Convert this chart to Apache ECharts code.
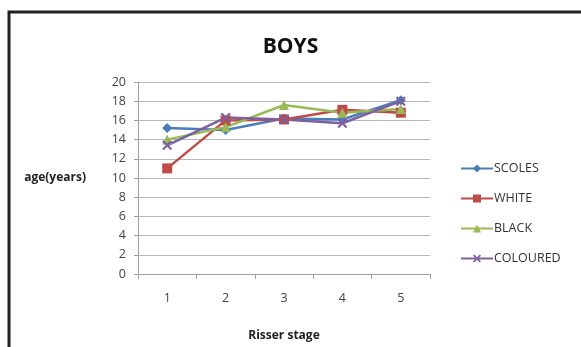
<!DOCTYPE html>
<html><head><meta charset="utf-8">
<script src="https://cdn.jsdelivr.net/npm/echarts@6/dist/echarts.min.js"></script>
<style>html,body{margin:0;padding:0;background:#fff}#c{width:581px;height:347px}</style>
</head><body><div id="c"></div>
<script>
const categories = ['1','2','3','4','5'];
const scoles = [15.2, 15.0, 16.2, 16.1, 18.1];
const white = [11.0, 16.0, 16.1, 17.1, 16.8];
const black = [14.0, 15.3, 17.6, 16.8, 17.2];
const coloured = [13.4, 16.3, 16.1, 15.7, 18.0];
const yTicks = {min: 0, max: 20, interval: 2};

const xPath = 'path://M0,1.5L1.5,0L5,3.5L8.5,0L10,1.5L6.5,5L10,8.5L8.5,10L5,6.5L1.5,10L0,8.5L3.5,5Z';
const chart = echarts.init(document.getElementById('c'));
const font = '"Open Sans", Lato, sans-serif';
function s(name, data, color, symbol, size){
  return {name, type:'line', data, symbol, symbolSize:size,
    lineStyle:{color, width:2.5}, itemStyle:{color}, z: 3};
}
chart.setOption({
  animation:false,
  textStyle:{fontFamily:font},
  graphic:[{type:'rect', shape:{x:9, y:12, width:640, height:400},
    style:{fill:'none', stroke:'#222', lineWidth:3}, silent:true}],
  title:{text:'BOYS', left:'center', top:32,
    textStyle:{fontSize:21, fontWeight:'bold', color:'#111', fontFamily:font}},
  legend:{orient:'vertical', left:455, top:157, itemWidth:32, itemHeight:10, itemGap:17,
    textStyle:{fontSize:12.5, color:'#333', fontFamily:font, padding:[0,0,0,-4]},
    data:['SCOLES','WHITE','BLACK','COLOURED']},
  grid:{left:138, right:151, top:82, bottom:71},
  xAxis:{type:'category', data:categories, boundaryGap:true,
    name:'Risser stage', nameLocation:'middle', nameGap:56,
    nameTextStyle:{fontSize:12, fontWeight:'bold', color:'#222', fontFamily:font},
    axisLine:{lineStyle:{color:'#a0a0a0'}},
    axisTick:{show:true, length:5, lineStyle:{color:'#a0a0a0'}},
    axisLabel:{fontSize:12.5, color:'#444', margin:18}},
  yAxis:{type:'value', min:yTicks.min, max:yTicks.max, interval:yTicks.interval,
    name:'age(years)', nameLocation:'middle', nameRotate:0, nameGap:52,
    nameTextStyle:{fontSize:12, fontWeight:'bold', color:'#222', fontFamily:font, align:'right'},
    axisLine:{show:true, lineStyle:{color:'#a0a0a0'}},
    axisTick:{show:true, length:4, inside:false, lineStyle:{color:'#a0a0a0'}},
    splitLine:{lineStyle:{color:'#b8b8b8'}},
    axisLabel:{fontSize:12.5, color:'#444', margin:12}},
  series:[
    s('SCOLES', scoles, '#4a7ebb', 'diamond', 10),
    s('WHITE', white, '#be4b48', 'rect', 10),
    s('BLACK', black, '#98b954', 'triangle', 10),
    s('COLOURED', coloured, '#7d60a0', xPath, 10)
  ]
});
</script></body></html>
